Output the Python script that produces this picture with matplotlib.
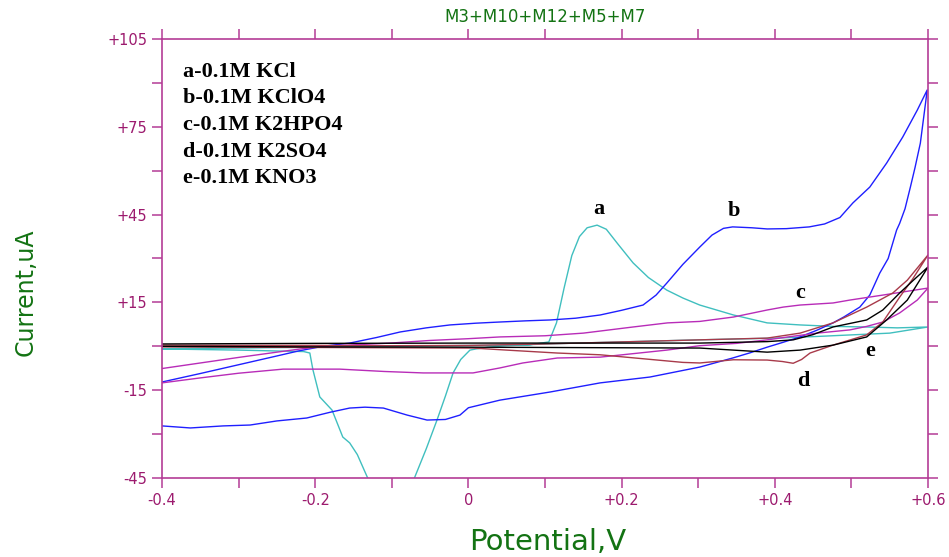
import numpy as np
import matplotlib
matplotlib.use("Agg")
import matplotlib.pyplot as plt

# curve a - 0.1M KCl (forward then reverse scan)
a_x = [-0.40, -0.30, -0.20, -0.10, 0.00, 0.08, 0.105, 0.115, 0.125, 0.135, 0.145, 0.155, 0.168, 0.18,
       0.195, 0.215, 0.235, 0.259, 0.28, 0.302, 0.346, 0.39, 0.433, 0.476, 0.52, 0.56, 0.60,
       0.55, 0.50, 0.45, 0.40, 0.30, 0.20, 0.10, 0.05, 0.025, 0.019, 0.01, 0.002, -0.01, -0.02,
       -0.03, -0.041, -0.055, -0.070, -0.075, -0.10, -0.125, -0.132, -0.145, -0.155, -0.164,
       -0.178, -0.194, -0.203, -0.207, -0.215, -0.25, -0.30, -0.35, -0.40]
a_y = [-0.8, -0.6, -0.3, 0.0, 0.3, 0.5, 1.5, 8, 20, 31, 37.5, 40.5, 41.4, 40, 35, 28.5, 23.5, 19.2,
       16.5, 14.1, 10.7, 8.0, 7.3, 6.8, 6.6, 6.3, 6.6,
       4.5, 3.9, 3.3, 2.8, 2.2, 1.5, 0.8, 0.2, -0.3, -0.6, -0.9, -1.3, -4.5, -9.1,
       -17, -25.2, -35, -44.7, -48, -58, -48, -44.7, -37, -33, -31,
       -21.8, -17.3, -8, -2.3, -1.8, -1.6, -1.3, -1.1, -0.9]

# curve b - 0.1M KClO4
b_x = [-0.40, -0.35, -0.30, -0.25, -0.222, -0.19, -0.155, -0.12, -0.089, -0.055, -0.024, 0.01, 0.041,
       0.075, 0.107, 0.14, 0.172, 0.20, 0.228, 0.245, 0.259, 0.28, 0.302, 0.318, 0.333, 0.345,
       0.37, 0.39, 0.415, 0.445, 0.465, 0.485, 0.502, 0.524, 0.546, 0.567, 0.586, 0.599,
       0.590, 0.583, 0.577, 0.570, 0.563, 0.559, 0.548, 0.537, 0.524, 0.511, 0.49, 0.476, 0.455,
       0.433, 0.41, 0.39, 0.368, 0.345, 0.302, 0.237, 0.172, 0.107, 0.041, 0.0, -0.011, -0.03,
       -0.054, -0.08, -0.111, -0.135, -0.155, -0.18, -0.211, -0.25, -0.285, -0.32, -0.363, -0.40]
b_y = [-12.2, -9.3, -6.3, -3.3, -1.6, 0.0, 1.1, 3.0, 4.9, 6.3, 7.3, 7.9, 8.3,
       8.7, 9.0, 9.6, 10.7, 12.3, 14.1, 17.5, 21.6, 28, 33.9, 38, 40.3, 40.8,
       40.5, 40.1, 40.2, 40.8, 41.8, 44, 49, 54.4, 62.6, 71.5, 80.7, 87.6,
       69.4, 61, 54.4, 47, 42, 39.7, 30, 25, 17.5, 13.4, 10, 8, 5.5,
       3.2, 1.3, -0.3, -2.2, -4, -7.1, -10.5, -12.5, -15.6, -18.4, -21, -23.5, -25,
       -25.2, -23.5, -21.1, -20.8, -21.1, -22.5, -24.5, -25.5, -26.9, -27.2, -27.9, -27.2]

# curve c - 0.1M K2HPO4
c_x = [-0.40, -0.35, -0.30, -0.25, -0.222, -0.19, -0.15, -0.102, -0.05, 0.0, 0.041, 0.10, 0.15,
       0.215, 0.26, 0.302, 0.346, 0.39, 0.411, 0.433, 0.476, 0.498, 0.541, 0.60,
       0.586, 0.563, 0.541, 0.52, 0.498, 0.455, 0.42, 0.39, 0.35, 0.302, 0.259, 0.172, 0.116,
       0.071, 0.041, 0.006, -0.059, -0.11, -0.168, -0.242, -0.30, -0.35, -0.40]
c_y = [-7.6, -5.7, -3.8, -2.0, -1.0, 0.0, 0.5, 1.1, 2.0, 2.6, 3.2, 3.6, 4.5,
       6.6, 8.0, 8.5, 10.0, 12.4, 13.4, 14.1, 14.8, 15.8, 17.5, 19.9,
       15.8, 11.4, 8.3, 6.8, 5.6, 4.5, 3.3, 2.2, 1.0, 0.2, -1.3, -3.7, -4.0,
       -5.7, -7.4, -9.1, -9.1, -8.6, -7.8, -7.8, -9.2, -10.8, -12.5]

# curve d - 0.1M K2SO4
d_x = [-0.40, -0.30, -0.20, -0.10, 0.006, 0.05, 0.116, 0.172, 0.23, 0.28, 0.302, 0.346, 0.39,
       0.41, 0.424, 0.435, 0.446, 0.476, 0.52, 0.541, 0.563, 0.58, 0.60,
       0.573, 0.554, 0.52, 0.476, 0.433, 0.39, 0.302, 0.20, 0.10, 0.0, -0.10, -0.20, -0.30, -0.40]
d_y = [-0.2, -0.3, -0.4, -0.5, -0.6, -1.3, -2.3, -2.9, -4.3, -5.5, -5.7, -4.6, -4.7,
       -5.2, -5.8, -4.5, -2.3, 0.4, 3.9, 8.3, 16.8, 23, 31.2,
       22.6, 18.2, 13.4, 8.0, 4.5, 2.8, 2.2, 1.5, 0.8, 0.3, 0.2, 0.3, 0.3, 0.4]

# curve e - 0.1M KNO3
e_x = [-0.40, -0.20, 0.0, 0.20, 0.302, 0.39, 0.424, 0.45, 0.476, 0.52, 0.541, 0.563, 0.581, 0.60,
       0.573, 0.546, 0.52, 0.476, 0.433, 0.39, 0.302, 0.20, 0.0, -0.20, -0.40]
e_y = [0.8, 1.0, 1.1, 1.1, 1.1, 1.6, 2.2, 4.0, 6.6, 9.0, 12.4, 18.2, 22.6, 27.1,
       15.8, 9.0, 3.2, 0.4, -1.3, -2.0, -0.6, -0.5, -0.3, -0.2, 0.0]

legend_lines = ["a-0.1M KCl", "b-0.1M KClO4", "c-0.1M K2HPO4", "d-0.1M K2SO4", "e-0.1M KNO3"]
x_ticks = [-0.4, -0.2, 0.0, 0.2, 0.4, 0.6]
x_tick_labels = ["-0.4", "-0.2", "0", "+0.2", "+0.4", "+0.6"]
y_ticks = [-45, -15, 15, 45, 75, 105]
y_tick_labels = ["-45", "-15", "+15", "+45", "+75", "+105"]

axis_col = "#b43c96"
lab_col = "#9c1a6e"
green = "#137313"

fig = plt.figure(figsize=(9.49, 5.57), dpi=100)
ax = fig.add_axes([162/949, 1-478/557, 766/949, 439/557])

ax.plot(a_x, a_y, color="#40bfbf", lw=1.0)
ax.plot(b_x, b_y, color="#1f1fff", lw=1.0)
ax.plot(c_x, c_y, color="#b82cb8", lw=1.0)
ax.plot(d_x, d_y, color="#a83a4a", lw=1.0)
ax.plot(e_x, e_y, color="black", lw=1.0)

ax.set_xlim(-0.4, 0.6)
ax.set_ylim(-45, 105)
ax.set_xticks(x_ticks)
ax.set_xticklabels(x_tick_labels)
ax.set_xticks(np.arange(-0.3, 0.6, 0.2), minor=True)
ax.set_yticks(y_ticks)
ax.set_yticklabels(y_tick_labels)
ax.set_yticks(np.arange(-30, 105, 30), minor=True)

for s in ax.spines.values():
    s.set_color(axis_col)
    s.set_linewidth(1.2)
ax.tick_params(which="both", direction="out", length=7.5, width=1.1, color=axis_col,
               top=True, right=True, labelcolor=lab_col, labelsize=10.5, pad=3)

# legend block and curve labels
for i, t in enumerate(legend_lines):
    ax.text(0.027, 0.925 - i*0.0605, t, transform=ax.transAxes, fontsize=16,
            fontweight="bold", family="Liberation Serif", va="center", ha="left")
for lbl, px, py in [("a", 0.170, 46.9), ("b", 0.347, 46.2), ("c", 0.433, 18.2),
                    ("d", 0.437, -11.9), ("e", 0.524, -1.6)]:
    ax.text(px, py, lbl, fontsize=16, fontweight="bold", family="Liberation Serif",
            ha="center", va="center")

fig.text(545/949, 1-17/557, "M3+M10+M12+M5+M7", color=green, fontsize=12,
         ha="center", va="center")
fig.text(548/949, 1-542/557, "Potential,V", color=green, fontsize=21,
         ha="center", va="center")
fig.text(26/949, 1-292/557, "Current,uA", color=green, fontsize=17,
         rotation=90, ha="center", va="center")

plt.savefig("out.png", dpi=100)
